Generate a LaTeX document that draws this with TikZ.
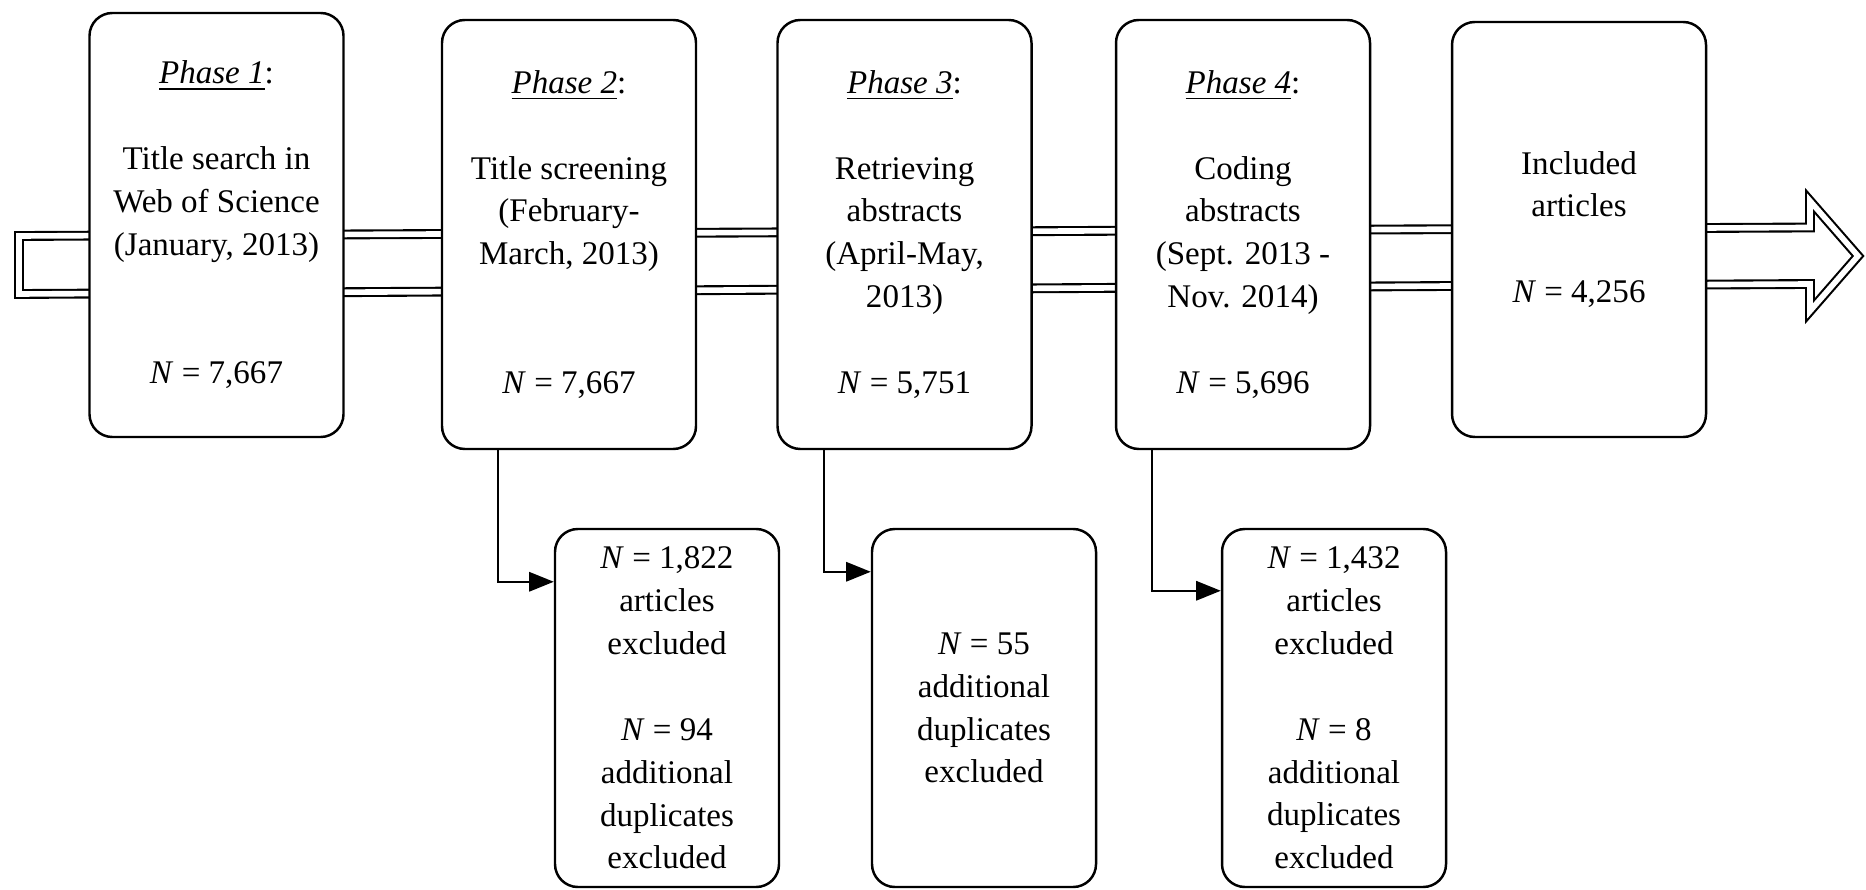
\documentclass[tikz,border=0pt]{standalone}
\usepackage{fontspec}
\setmainfont{Liberation Serif}
\usepackage{tikz}
\usetikzlibrary{arrows.meta, positioning}
\tikzset{>={Triangle[length=7pt,width=5.5pt]}}

\begin{document}
\begin{tikzpicture}[
    phase/.style={draw, line width=0.7pt, rounded corners=6.5pt, fill=white,
      align=center, minimum width=2.54cm, inner sep=2pt,
      font=\fontsize{9.4}{12.2}\selectfont},
    excl/.style={phase, minimum width=2.24cm, minimum height=3.58cm}]
  \useasboundingbox (0,0) rectangle (18.66,8.89);

  % Hollow arrow behind the phases
  \draw[line width=0.6pt, double distance=1.6pt]
    (0.19,5.95) -- (0.19,6.53) -- (18.10,6.615) -- (18.10,6.88)
    -- (18.58,6.33) -- (18.10,5.78) -- (18.10,6.05) -- cycle;

  % Phases
  \node[phase, minimum height=4.24cm] (p1) at (2.165,6.64)
    {\underline{\textit{Phase 1}}:\\[12.2pt] Title search in\\ Web of Science\\
     (January, 2013)\\[24.4pt] \textit{N} = 7,667};
  \node[phase, minimum height=4.29cm] (p2) at (5.69,6.545)
    {\underline{\textit{Phase 2}}:\\[12.2pt] Title screening\\ (February-\\
     March, 2013)\\[24.4pt] \textit{N} = 7,667};
  \node[phase, minimum height=4.29cm] (p3) at (9.045,6.545)
    {\underline{\textit{Phase 3}}:\\[12.2pt] Retrieving\\ abstracts\\
     (April-May,\\ 2013)\\[12.2pt] \textit{N} = 5,751};
  \node[phase, minimum height=4.29cm] (p4) at (12.43,6.545)
    {\underline{\textit{Phase 4}}:\\[12.2pt] Coding\\ abstracts\\
     (Sept. 2013 -\\ Nov. 2014)\\[12.2pt] \textit{N} = 5,696};
  \node[phase, minimum height=4.15cm] (p5) at (15.79,6.595)
    {Included\\ articles\\[12.2pt] \textit{N} = 4,256};

  % Exclusions
  \node[excl] (x1) at (6.67,1.81)
    {\textit{N} = 1,822\\ articles\\ excluded\\[12.2pt] \textit{N} = 94\\
     additional\\ duplicates\\ excluded};
  \node[excl] (x2) at (9.84,1.81)
    {\textit{N} = 55\\ additional\\ duplicates\\ excluded};
  \node[excl] (x3) at (13.34,1.81)
    {\textit{N} = 1,432\\ articles\\ excluded\\[12.2pt] \textit{N} = 8\\
     additional\\ duplicates\\ excluded};

  \draw[->, line width=0.6pt] ([xshift=0.57cm]p2.south west) |- ([yshift=-0.54cm]x1.north west);
  \draw[->, line width=0.6pt] ([xshift=0.48cm]p3.south west) |- ([yshift=-0.44cm]x2.north west);
  \draw[->, line width=0.6pt] ([xshift=0.37cm]p4.south west) |- ([yshift=-0.63cm]x3.north west);
\end{tikzpicture}
\end{document}
